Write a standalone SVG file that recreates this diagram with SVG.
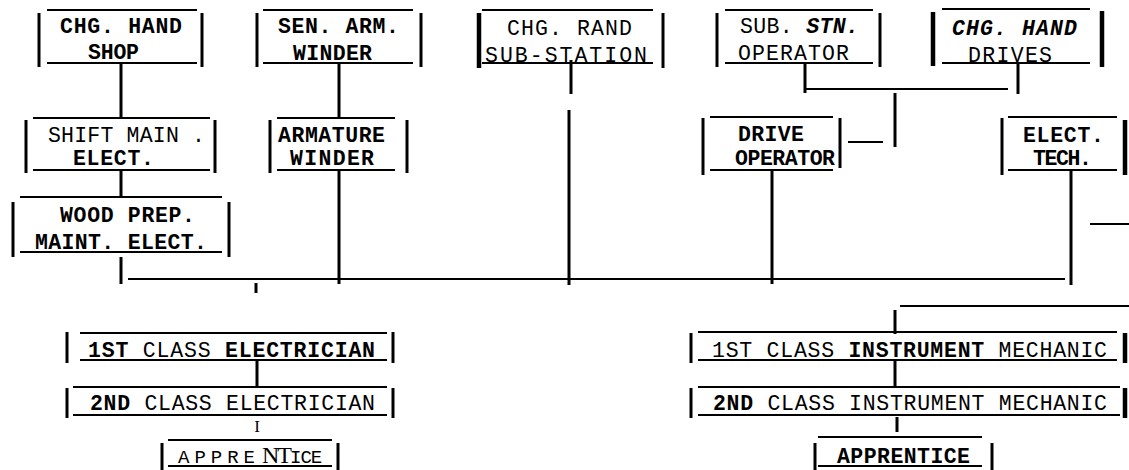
<svg xmlns="http://www.w3.org/2000/svg" width="1129" height="470" viewBox="0 0 1129 470">
<style>
.hl{stroke:#000;stroke-width:2;fill:none}
.vb{stroke:#000;stroke-width:3;fill:none}
.vt{stroke:#000;stroke-width:4.5;fill:none}
.c{stroke:#000;stroke-width:3;fill:none}
.ch{stroke:#000;stroke-width:2;fill:none}
text{font-family:'Courier New','Liberation Mono',monospace;font-size:21.5px;fill:#000}
.b{font-weight:bold}
.i{font-style:italic}
.sr{font-family:'Liberation Serif','Times New Roman',serif}
</style>
<rect width="1129" height="470" fill="#fff"/>

<g id="connectors">
<line class="c" x1="121" y1="64" x2="121" y2="118"/>
<line class="c" x1="339" y1="64" x2="339" y2="118"/>
<line class="c" x1="571" y1="60" x2="571" y2="94"/>
<line class="c" x1="569" y1="110" x2="569" y2="285"/>
<line class="c" x1="805" y1="64" x2="805" y2="93"/>
<line class="ch" x1="805" y1="89" x2="1008" y2="89"/>
<line class="c" x1="1018" y1="64" x2="1018" y2="94"/>
<line class="c" x1="895" y1="93" x2="895" y2="147"/>
<line class="ch" x1="848" y1="142" x2="883" y2="142"/>
<line class="c" x1="121" y1="171" x2="121" y2="198"/>
<line class="c" x1="121" y1="257" x2="121" y2="284"/>
<line class="ch" x1="128" y1="279" x2="1065" y2="279"/>
<line class="c" x1="339" y1="171" x2="339" y2="284"/>
<line class="c" x1="772" y1="171" x2="772" y2="284"/>
<line class="c" x1="1071" y1="171" x2="1071" y2="285"/>
<line class="ch" x1="1090" y1="224" x2="1129" y2="224"/>
<line class="c" x1="256" y1="283" x2="256" y2="293"/>
<line class="ch" x1="900" y1="306" x2="1129" y2="306"/>
<line class="c" x1="895" y1="310" x2="895" y2="334"/>
<line class="c" x1="257" y1="361" x2="257" y2="388"/>
<line class="c" x1="895" y1="361" x2="895" y2="388"/>
<line class="c" x1="897" y1="417" x2="897" y2="432"/>
</g>

<g id="chg-hand-shop">
<line class="hl" x1="47" y1="10" x2="197" y2="10"/><line class="hl" x1="47" y1="63" x2="197" y2="63"/>
<line class="vb" x1="39" y1="13" x2="39" y2="67"/><line class="vb" x1="202" y1="13" x2="202" y2="67"/>
<text class="b" x="60" y="33" textLength="122">CHG. HAND</text>
<text class="b" x="88" y="59" textLength="51">SHOP</text>
</g>

<g id="sen-arm-winder">
<line class="hl" x1="263" y1="10" x2="413" y2="10"/><line class="hl" x1="263" y1="63" x2="413" y2="63"/>
<line class="vb" x1="257" y1="13" x2="257" y2="67"/><line class="vb" x1="421" y1="13" x2="421" y2="67"/>
<text class="b" x="278" y="33" textLength="121">SEN. ARM.</text>
<text class="b" x="293" y="60" textLength="79">WINDER</text>
</g>

<g id="chg-rand-substation">
<line class="hl" x1="482" y1="10" x2="653" y2="10"/><line class="hl" x1="482" y1="63" x2="653" y2="63"/>
<line class="vt" x1="479" y1="13" x2="479" y2="68"/><line class="vb" x1="663" y1="13" x2="663" y2="68"/>
<text x="507" y="35" textLength="125">CHG. RAND</text>
<text x="485" y="62" textLength="162">SUB-STATION</text>
</g>

<g id="sub-stn-operator">
<line class="hl" x1="725" y1="10" x2="873" y2="10"/><line class="hl" x1="725" y1="63" x2="873" y2="63"/>
<line class="vb" x1="717" y1="13" x2="717" y2="67"/><line class="vb" x1="880" y1="13" x2="880" y2="67"/>
<text x="740" y="33" textLength="119">SUB. <tspan class="b i">STN.</tspan></text>
<text x="738" y="60" textLength="111">OPERATOR</text>
</g>

<g id="chg-hand-drives">
<line class="hl" x1="942" y1="9" x2="1090" y2="9"/><line class="hl" x1="942" y1="63" x2="1090" y2="63"/>
<line class="vt" x1="933" y1="12" x2="933" y2="66"/><line class="vt" x1="1102" y1="11" x2="1102" y2="67"/>
<text class="b i" x="952" y="35" textLength="125">CHG. HAND</text>
<text x="968" y="62" textLength="84">DRIVES</text>
</g>

<g id="shift-main-elect">
<line class="hl" x1="33" y1="118" x2="210" y2="118"/><line class="hl" x1="33" y1="170" x2="210" y2="170"/>
<line class="vb" x1="26" y1="120" x2="26" y2="173"/><line class="vb" x1="215" y1="120" x2="215" y2="173"/>
<text x="48" y="142" textLength="157">SHIFT MAIN .</text>
<text class="b" x="73" y="165" textLength="81">ELECT.</text>
</g>

<g id="armature-winder">
<line class="hl" x1="277" y1="118" x2="395" y2="118"/><line class="hl" x1="277" y1="170" x2="395" y2="170"/>
<line class="vb" x1="270" y1="120" x2="270" y2="173"/><line class="vb" x1="407" y1="120" x2="407" y2="173"/>
<text class="b" x="278" y="142" textLength="107">ARMATURE</text>
<text class="b" x="290" y="165" textLength="84">WINDER</text>
</g>

<g id="drive-operator">
<line class="hl" x1="710" y1="117" x2="833" y2="117"/><line class="hl" x1="710" y1="170" x2="833" y2="170"/>
<line class="vb" x1="703" y1="118" x2="703" y2="175"/><line class="vb" x1="840" y1="118" x2="840" y2="168"/>
<text class="b" x="738" y="141" textLength="66">DRIVE</text>
<text class="b" x="735" y="165" textLength="100">OPERATOR</text>
</g>

<g id="elect-tech">
<line class="hl" x1="1008" y1="117" x2="1117" y2="117"/><line class="hl" x1="1008" y1="170" x2="1117" y2="170"/>
<line class="vb" x1="1002" y1="118" x2="1002" y2="175"/><line class="vt" x1="1125" y1="120" x2="1125" y2="175"/>
<text class="b" x="1023" y="142" textLength="81">ELECT.</text>
<text class="b" x="1033" y="165" textLength="59">TECH.</text>
</g>

<g id="wood-prep-maint-elect">
<line class="hl" x1="20" y1="197" x2="222" y2="197"/><line class="hl" x1="20" y1="252" x2="222" y2="252"/>
<line class="vb" x1="13" y1="202" x2="13" y2="257"/><line class="vb" x1="229" y1="202" x2="229" y2="257"/>
<text class="b" x="60" y="222" textLength="135">WOOD PREP.</text>
<text class="b" x="35" y="249" textLength="172">MAINT. ELECT.</text>
</g>

<g id="first-class-electrician">
<line class="hl" x1="80" y1="333" x2="387" y2="333"/><line class="hl" x1="80" y1="360" x2="387" y2="360"/>
<line class="vb" x1="67" y1="332" x2="67" y2="363"/><line class="vb" x1="393" y1="332" x2="393" y2="363"/>
<text x="88" y="357" textLength="287"><tspan class="b">1ST</tspan> CLASS <tspan class="b">ELECTRICIAN</tspan></text>
</g>

<g id="second-class-electrician">
<line class="hl" x1="73" y1="387" x2="387" y2="387"/><line class="hl" x1="73" y1="415" x2="387" y2="415"/>
<line class="vb" x1="67" y1="388" x2="67" y2="418"/><line class="vb" x1="393" y1="388" x2="393" y2="418"/>
<text x="90" y="410" textLength="285"><tspan class="b">2ND</tspan> CLASS ELECTRICIAN</text>
<text class="sr" x="257" y="432" text-anchor="middle" style="font-size:17px">I</text>
</g>

<g id="apprentice-electrical">
<line class="hl" x1="168" y1="440" x2="332" y2="440"/><line class="hl" x1="168" y1="466" x2="332" y2="466"/>
<line class="vb" x1="162" y1="443" x2="162" y2="470"/><line class="vb" x1="338" y1="443" x2="338" y2="470"/>
<text x="178" y="463" style="font-size:19px"><tspan letter-spacing="5">APPRE</tspan><tspan class="sr" x="262" style="font-size:24px" letter-spacing="-2">NT</tspan><tspan x="290" letter-spacing="-1">ICE</tspan></text>
</g>

<g id="first-class-instrument-mechanic">
<line class="hl" x1="698" y1="332" x2="1117" y2="332"/><line class="hl" x1="698" y1="360" x2="1117" y2="360"/>
<line class="vb" x1="691" y1="333" x2="691" y2="363"/><line class="vt" x1="1125" y1="333" x2="1125" y2="363"/>
<text x="712" y="357" textLength="395">1ST CLASS <tspan class="b">INSTRUMENT</tspan> MECHANIC</text>
</g>

<g id="second-class-instrument-mechanic">
<line class="hl" x1="698" y1="387" x2="1120" y2="387"/><line class="hl" x1="698" y1="415" x2="1120" y2="415"/>
<line class="vb" x1="691" y1="388" x2="691" y2="418"/><line class="vt" x1="1125" y1="388" x2="1125" y2="418"/>
<text x="713" y="410" textLength="394"><tspan class="b">2ND</tspan> CLASS INSTRUMENT MECHANIC</text>
</g>

<g id="apprentice-instrument">
<line class="hl" x1="818" y1="437" x2="982" y2="437"/><line class="hl" x1="818" y1="466" x2="982" y2="466"/>
<line class="vb" x1="815" y1="443" x2="815" y2="470"/><line class="vb" x1="992" y1="443" x2="992" y2="470"/>
<text class="b" x="837" y="463" textLength="133">APPRENTICE</text>
</g>
</svg>
